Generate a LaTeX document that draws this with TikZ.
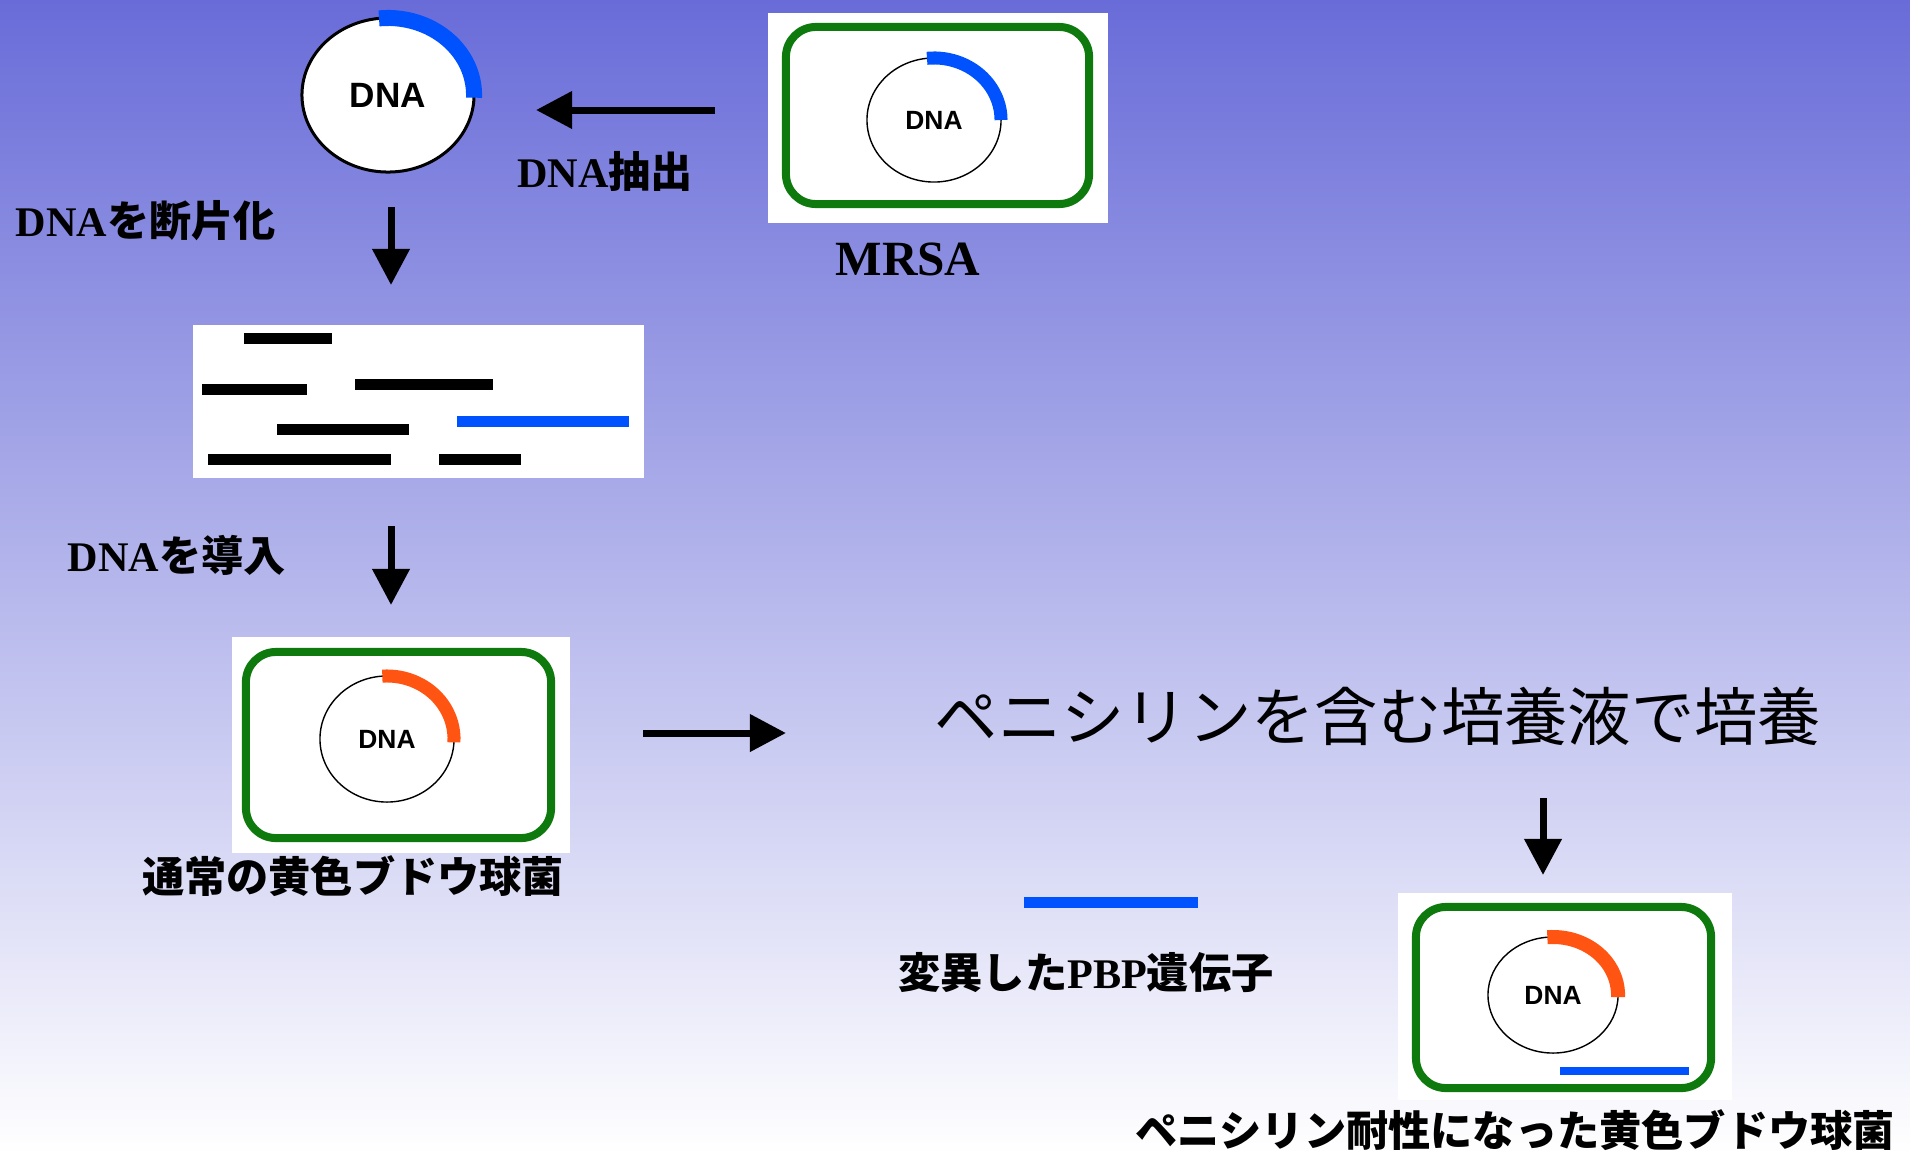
\documentclass[tikz,border=0pt]{standalone}
\usepackage{fontspec}
\setmainfont{Liberation Serif}
\setsansfont{Liberation Sans}
\newfontfamily\jp{Noto Sans CJK JP}
\usetikzlibrary{arrows.meta,shapes.geometric}
\definecolor{dg}{RGB}{14,122,14}
\definecolor{pbp}{RGB}{0,82,255}
\definecolor{hot}{RGB}{255,84,18}
\definecolor{bgtop}{RGB}{105,108,216}
\definecolor{bgmid}{RGB}{205,205,240}
\tikzset{
    plasmid/.style = {ellipse,
                    fill=white,
                    draw=black,
                    text=black,
                    line width=0.4pt,
                    inner sep=0pt,
                    font=\sffamily\bfseries\fontsize{7.5}{9}\selectfont},
    cell/.style =   {rectangle,
                    rounded corners=0.3cm,
                    draw=dg,
                    line width=0.08cm,
                    inner sep=0pt},
    frame/.style =  {rectangle,
                    fill=white,
                    inner sep=0pt},
    note/.style =   {text=black,
                    inner sep=0pt,
                    font=\bfseries\fontsize{12}{14}\selectfont},
    flow/.style =   {-{Triangle[length=0.36cm,width=0.36cm]},
                    line width=0.07cm},
    piece/.style =  {line width=0.11cm},
    -,
    x=0.01cm,
    y=0.01cm}

\begin{document}
\begin{tikzpicture}
    \useasboundingbox (0,0) rectangle (1910,-1154);
    \shade[top color=bgtop, middle color=bgmid, bottom color=white] (0,0) rectangle (1910,-1154);

    % extracted plasmid
    \node[plasmid, minimum width=1.72cm, minimum height=1.54cm,
          font=\sffamily\bfseries\fontsize{10}{12}\selectfont, line width=0.03cm]
                                (dna)       at (388,-95)    {DNA};
    \draw[pbp, line width=0.16cm] ([shift={(96:0.86cm and 0.77cm)}]dna.center)
        arc[start angle=96, end angle=-2, x radius=0.86cm, y radius=0.77cm];

    % MRSA cell
    \node[frame, minimum width=3.40cm, minimum height=2.10cm] (mrsabg) at (938,-118) {};
    \node[cell, minimum width=3.03cm, minimum height=1.77cm]  (mrsa)   at (937.5,-115.5) {};
    \node[plasmid, minimum width=1.34cm, minimum height=1.24cm] (mrsadna) at (934,-120) {DNA};
    \draw[pbp, line width=0.13cm] ([shift={(96:0.67cm and 0.62cm)}]mrsadna.center)
        arc[start angle=96, end angle=0, x radius=0.67cm, y radius=0.62cm];
    \node[note, font=\bfseries\fontsize{14}{16}\selectfont] (mrsalbl) at (908,-259) {MRSA};

    % fragments
    \node[frame, minimum width=4.51cm, minimum height=1.53cm] (frag) at (418.5,-401.5) {};
    \foreach \xa/\xb/\yy in {244/332/338, 202/307/389, 355/493/384,
                             277/409/429, 208/391/459, 439/521/459}
        \draw[piece] (\xa,-\yy) -- (\xb,-\yy);
    \draw[piece, pbp] (457,-421) -- (629,-421);

    % ordinary S. aureus
    \node[frame, minimum width=3.38cm, minimum height=2.16cm] (normbg) at (401,-745) {};
    \node[cell, minimum width=3.05cm, minimum height=1.86cm]  (norm)   at (398.5,-745) {};
    \node[plasmid, minimum width=1.34cm, minimum height=1.26cm] (normdna) at (387,-739) {DNA};
    \draw[hot, line width=0.13cm] ([shift={(94:0.67cm and 0.63cm)}]normdna.center)
        arc[start angle=94, end angle=-3, x radius=0.67cm, y radius=0.63cm];

    % resistant S. aureus
    \node[frame, minimum width=3.34cm, minimum height=2.07cm] (resbg) at (1565,-996.5) {};
    \node[cell, minimum width=2.95cm, minimum height=1.81cm]  (res)   at (1563.5,-997.5) {};
    \node[plasmid, minimum width=1.30cm, minimum height=1.16cm] (resdna) at (1553,-995) {DNA};
    \draw[hot, line width=0.14cm] ([shift={(95:0.65cm and 0.58cm)}]resdna.center)
        arc[start angle=95, end angle=-2, x radius=0.65cm, y radius=0.58cm];
    \draw[pbp, line width=0.08cm] (1560,-1071) -- (1689,-1071);

    % legend bar
    \draw[pbp, line width=0.11cm] (1024,-902) -- (1198,-902);

    % labels
    \node[note]     (extract)   at (605,-171)   {DNA{\jp 抽出}};
    \node[note]     (cut)       at (146,-221)   {DNA{\jp を断片化}};
    \node[note]     (insert)    at (177,-555)   {DNA{\jp を導入}};
    \node[note]     (normlbl)   at (353,-876)   {{\jp 通常の黄色ブドウ球菌}};
    \node[note, font=\fontsize{18}{20}\selectfont]
                    (culture)   at (1378,-716)  {{\jp ペニシリンを含む培養液で培養}};
    \node[note]     (pbplbl)    at (1086,-973)  {{\jp 変異した}PBP{\jp 遺伝子}};
    \node[note]     (reslbl)    at (1515,-1130) {{\jp ペニシリン耐性になった黄色ブドウ球菌}};

    % arrows
    \coordinate (e1) at (715,-110);  \coordinate (e2) at (536,-110);
    \coordinate (c1) at (391,-207);  \coordinate (c2) at (391,-285);
    \coordinate (i1) at (391,-526);  \coordinate (i2) at (391,-605);
    \coordinate (g1) at (643,-733);  \coordinate (g2) at (786,-733);
    \coordinate (r1) at (1543,-798); \coordinate (r2) at (1543,-875);
    \path [flow]    (e1) edge (e2)
                    (c1) edge (c2)
                    (i1) edge (i2)
                    (g1) edge (g2)
                    (r1) edge (r2);
\end{tikzpicture}
\end{document}
